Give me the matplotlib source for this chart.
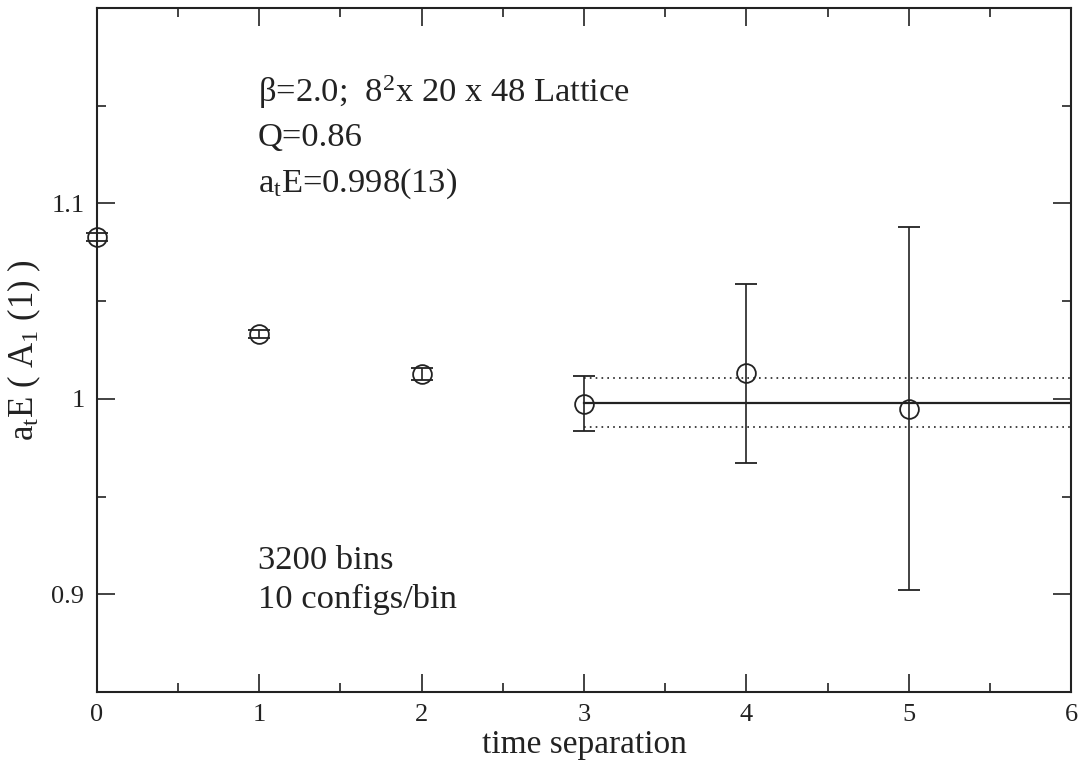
import matplotlib
matplotlib.use("Agg")
import matplotlib.pyplot as plt
from matplotlib.ticker import MultipleLocator

plt.rcParams['font.family'] = ['Liberation Serif', 'DejaVu Serif']
plt.rcParams['mathtext.fontset'] = 'custom'
plt.rcParams['mathtext.rm'] = 'Liberation Serif'
plt.rcParams['mathtext.it'] = 'Liberation Serif:italic'

# data
t = [0, 1, 2, 3, 4, 5]
energy = [1.0828, 1.033, 1.0128, 0.9975, 1.013, 0.995]
err = [0.002, 0.002, 0.003, 0.014, 0.046, 0.093]
fit_range = [3, 6]
fit_val = 0.998
fit_err = 0.0125

fig = plt.figure(figsize=(10.8, 7.67), dpi=100)
ax = fig.add_axes([0.0898, 0.0978, 0.9019, 0.8918])

eb = ax.errorbar(t, energy, yerr=err, fmt='o', mfc='none', mec='#222222', ecolor='#222222',
                 ms=13.5, mew=1.3, elinewidth=1.2, capsize=8, capthick=1.2, color='#222222')
for artist in eb.lines[0:1] + tuple(eb.lines[1]) + tuple(eb.lines[2]):
    artist.set_clip_on(False)
ax.plot(fit_range, [fit_val, fit_val], color='#222222', lw=1.6)
ax.plot(fit_range, [fit_val + fit_err] * 2, color='#222222', lw=1.2, ls=(0, (1, 2.5)))
ax.plot(fit_range, [fit_val - fit_err] * 2, color='#222222', lw=1.2, ls=(0, (1, 2.5)))

ax.set_xlim(0, 6)
ax.set_ylim(0.85, 1.2)
ax.xaxis.set_major_locator(MultipleLocator(1))
ax.xaxis.set_minor_locator(MultipleLocator(0.5))
ax.yaxis.set_minor_locator(MultipleLocator(0.05))
ax.set_yticks([0.9, 1.0, 1.1])
ax.set_yticklabels(['0.9', '1', '1.1'])

ax.tick_params(which='both', direction='in', top=True, right=True, width=1.2, colors='#222222')
ax.tick_params(which='major', length=13, labelsize=19, pad=9)
ax.tick_params(which='minor', length=6.5)
for s in ax.spines.values():
    s.set_linewidth(1.5)
    s.set_color('#222222')

ax.set_xlabel('time separation', fontsize=24, labelpad=2, color='#222222')
ax.set_ylabel(r'a$_\mathrm{t}$E ( A$_\mathrm{1}$ (1) )', fontsize=25, labelpad=6, color='#222222')

kw = dict(transform=ax.transData, fontsize=24.8, color='#222222', ha='left', va='baseline')
ax.text(0.99, 1.152, r'$\mathrm{\beta}$=2.0;  8$^\mathrm{2}$x 20 x 48 Lattice', **kw)
ax.text(0.99, 1.1295, 'Q=0.86', **kw)
ax.text(0.99, 1.106, r'a$_\mathrm{t}$E=0.998(13)', **kw)
ax.text(0.99, 0.913, '3200 bins', **kw)
ax.text(0.99, 0.893, '10 configs/bin', **kw)

fig.savefig('out.png', dpi=100)
